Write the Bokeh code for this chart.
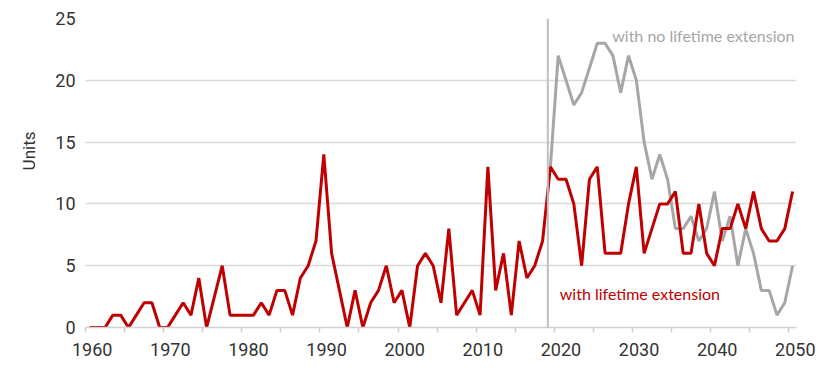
from bokeh.plotting import figure
from bokeh.models import Range1d, FixedTicker, Span, Label, Title, CustomJSTickFormatter
from bokeh.embed import file_html
from bokeh.resources import INLINE

# ---- data ----
years = list(range(1960, 2051))
with_extension = [
    0, 0, 0, 1, 1, 0, 1, 2, 2, 0,          # 1960-1969
    0, 1, 2, 1, 4, 0, 2.5, 5, 1, 1,        # 1970-1979
    1, 1, 2, 1, 3, 3, 1, 4, 5, 7,          # 1980-1989
    14, 6, 3, 0, 3, 0, 2, 3, 5, 2,         # 1990-1999
    3, 0, 5, 6, 5, 2, 8, 1, 2, 3,          # 2000-2009
    1, 13, 3, 6, 1, 7, 4, 5, 7, 13,        # 2010-2019
    12, 12, 10, 5, 12, 13, 6, 6, 6, 10,    # 2020-2029
    13, 6, 8, 10, 10, 11, 6, 6, 10, 6,     # 2030-2039
    5, 8, 8, 10, 8, 11, 8, 7, 7, 8,        # 2040-2049
    11,                                    # 2050
]
years_no_ext = list(range(2019, 2051))
no_extension = [
    13,                                    # 2019
    22, 20, 18, 19, 21, 23, 23, 22, 19, 22,  # 2020-2029
    20, 15, 12, 14, 12, 8, 8, 9, 7, 8,     # 2030-2039
    11, 7, 9, 5, 8, 6, 3, 3, 1, 2,         # 2040-2049
    5,                                     # 2050
]
x_tick_labels = [str(y) for y in range(1960, 2051, 10)]
y_ticks = [0, 5, 10, 15, 20, 25]
cutoff_year = 2018.67

RED = "#C00000"
GREY = "#A6A6A6"

p = figure(width=829, height=363, output_backend="svg", toolbar_location=None,
           x_range=Range1d(1959.5, 2050.5), y_range=Range1d(0, 25),
           min_border_left=85, min_border_right=33, min_border_top=18,
           min_border_bottom=36)
p.outline_line_color = None
p.background_fill_color = "white"
p.border_fill_color = "white"

# grid
p.xgrid.grid_line_color = None
p.ygrid.ticker = FixedTicker(ticks=y_ticks[1:])
p.ygrid.grid_line_color = "#D9D9D9"
p.ygrid.grid_line_width = 1.5

# x axis: labels sit slightly right of the category centre, tick marks between categories
label_shift = 0.35
p.xaxis.ticker = FixedTicker(ticks=[int(t) + label_shift for t in x_tick_labels],
                             minor_ticks=[y - 0.5 for y in range(1960, 2051, 5)])
p.xaxis.formatter = CustomJSTickFormatter(code="return String(Math.round(tick));")
p.xaxis.axis_line_color = "#D0D0D0"
p.xaxis.axis_line_width = 1.5
p.xaxis.major_tick_line_color = None
p.xaxis.major_tick_out = 0
p.xaxis.major_tick_in = 0
p.xaxis.minor_tick_line_color = "#D0D0D0"
p.xaxis.minor_tick_line_width = 1.5
p.xaxis.minor_tick_out = 5
p.xaxis.minor_tick_in = 0
p.xaxis.major_label_standoff = 10
p.xaxis.major_label_text_font = "Roboto"
p.xaxis.major_label_text_font_size = "18px"
p.xaxis.major_label_text_color = "#333333"

# y axis
p.yaxis.ticker = FixedTicker(ticks=y_ticks)
p.yaxis.axis_line_color = None
p.yaxis.major_tick_line_color = None
p.yaxis.minor_tick_line_color = None
p.yaxis.major_tick_out = 0
p.yaxis.major_tick_in = 0
p.yaxis.major_label_standoff = 10
p.yaxis.major_label_text_font = "Roboto"
p.yaxis.major_label_text_font_size = "18px"
p.yaxis.major_label_text_color = "#333333"

# y axis title, placed on the left side, shifted towards the top
p.add_layout(Title(text="Units", align="right", offset=113,
                   vertical_align="middle", standoff=26,
                   text_font="Roboto", text_font_size="17px",
                   text_font_style="normal", text_color="#333333"), "left")

# vertical marker
p.add_layout(Span(location=cutoff_year, dimension="height",
                  line_color="#BFBFBF", line_width=2))

# series
p.line(years_no_ext, no_extension, line_color=GREY, line_width=3)
p.line(years, with_extension, line_color=RED, line_width=3)

# texts
p.add_layout(Label(x=2050.25, y=23.62, text="with no lifetime extension",
                   text_align="right", text_baseline="middle",
                   text_font="Lato", text_font_size="16px", text_color=GREY))
p.add_layout(Label(x=2020.2, y=2.75, text="with lifetime extension",
                   text_align="left", text_baseline="middle",
                   text_font="Lato", text_font_size="16px", text_color=RED))

open("out.html", "w").write(file_html(p, INLINE))
